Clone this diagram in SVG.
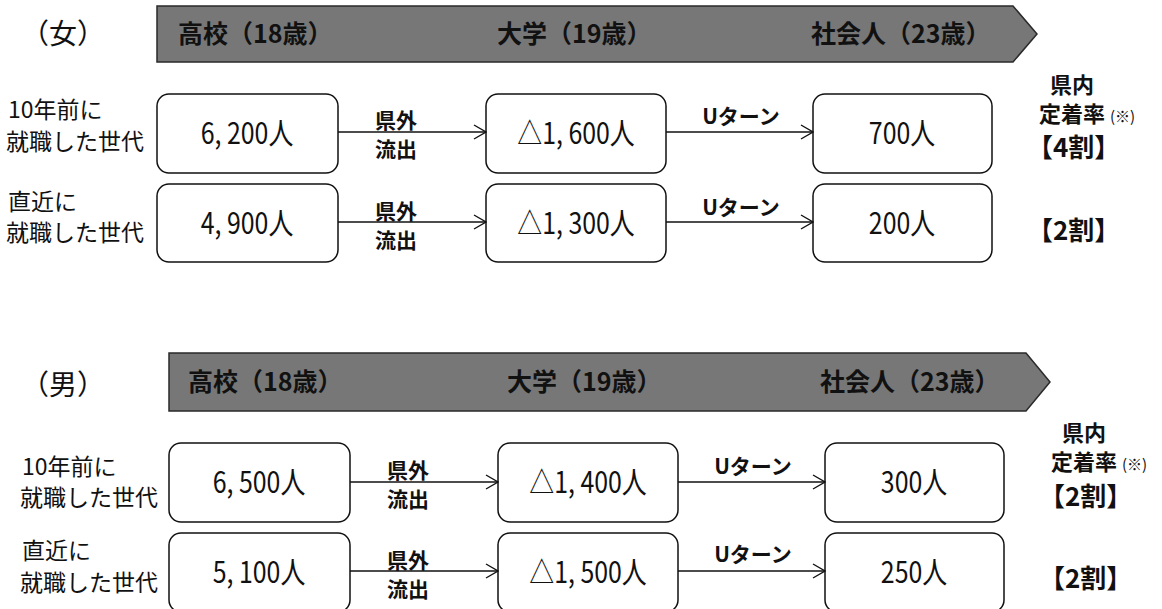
<svg xmlns="http://www.w3.org/2000/svg" width="1162" height="609" viewBox="0 0 1162 609">
<style>
.bg{fill:#ffffff}
.banner{fill:#777777;stroke:#2a2a2a;stroke-width:1.5}
.bt{font-family:"Noto Sans CJK JP","Noto Sans",sans-serif;font-weight:bold;font-size:25px;fill:#111}
.box{fill:#fff;stroke:#111;stroke-width:1.5}
.num{font-family:"Noto Sans CJK JP","Noto Sans",sans-serif;font-size:30px;fill:#111;text-anchor:middle}
.lab{font-family:"Noto Sans CJK JP","Noto Sans",sans-serif;font-size:23px;fill:#111}
.sex{font-family:"Noto Sans CJK JP","Noto Sans",sans-serif;font-size:28px;fill:#111}
.al{font-family:"Noto Sans CJK JP","Noto Sans",sans-serif;font-weight:bold;font-size:21px;fill:#111;text-anchor:middle}
.rt{font-family:"Noto Sans CJK JP","Noto Sans",sans-serif;font-weight:bold;font-size:22px;fill:#111}
.rb{font-family:"Noto Sans CJK JP","Noto Sans",sans-serif;font-weight:bold;font-size:26px;fill:#111}
.sm{font-family:"Noto Sans CJK JP","Noto Sans",sans-serif;font-size:15px;fill:#111}
.conn{stroke:#111;stroke-width:1.4;fill:none}
</style>
<defs>
<marker id="arr" viewBox="0 0 14 16" refX="13" refY="8" markerWidth="14" markerHeight="16" markerUnits="userSpaceOnUse" orient="auto">
<path d="M1,1 L13,8 L1,15" fill="none" stroke="#111" stroke-width="1.4"/>
</marker>
</defs>
<rect class="bg" x="0" y="0" width="1162" height="609"/>

<!-- Female section -->
<g id="female-header">
<text class="sex" x="21" y="44">（女）</text>
<path class="banner" d="M157,6 L1013,6 L1037,34 L1013,62 L157,62 Z"/>
<text class="bt" x="178" y="43">高校（18歳）</text>
<text class="bt" x="497" y="43">大学（19歳）</text>
<text class="bt" x="811" y="43">社会人（23歳）</text>
</g>

<g id="female-row1-label">
<text class="lab" x="8" y="118">10年前に</text>
<text class="lab" x="6" y="150">就職した世代</text>
</g>
<g id="female-row2-label">
<text class="lab" x="8" y="210">直近に</text>
<text class="lab" x="6" y="241">就職した世代</text>
</g>

<g id="f-r1-hs"><rect class="box" x="157" y="94" width="181" height="79" rx="12"/><text class="num" transform="translate(247,144) scale(0.83,1)">6, 200人</text></g>
<g id="f-r1-uni"><rect class="box" x="486" y="94" width="180" height="79" rx="12"/><text class="num" transform="translate(576,144) scale(0.83,1)">△1, 600人</text></g>
<g id="f-r1-work"><rect class="box" x="813" y="94" width="179" height="79" rx="12"/><text class="num" transform="translate(902,144) scale(0.83,1)">700人</text></g>

<g id="f-r2-hs"><rect class="box" x="157" y="184" width="181" height="78" rx="12"/><text class="num" transform="translate(247,234) scale(0.83,1)">4, 900人</text></g>
<g id="f-r2-uni"><rect class="box" x="486" y="184" width="180" height="78" rx="12"/><text class="num" transform="translate(576,234) scale(0.83,1)">△1, 300人</text></g>
<g id="f-r2-work"><rect class="box" x="813" y="184" width="179" height="78" rx="12"/><text class="num" transform="translate(902,234) scale(0.83,1)">200人</text></g>

<g id="female-rate">
<text class="rt" x="1050" y="93">県内</text>
<text class="rt" x="1039" y="122">定着率</text><text class="sm" x="1110" y="122">(※)</text>
<text class="rb" x="1027" y="157">【4割】</text>
<text class="rb" x="1027" y="240">【2割】</text>
</g>

<!-- Male section -->
<g id="male-header">
<text class="sex" x="21" y="395">（男）</text>
<path class="banner" d="M169,353 L1026,353 L1050,382 L1026,411 L169,411 Z"/>
<text class="bt" x="188" y="391">高校（18歳）</text>
<text class="bt" x="507" y="391">大学（19歳）</text>
<text class="bt" x="820" y="391">社会人（23歳）</text>
</g>

<g id="male-row1-label">
<text class="lab" x="22" y="475">10年前に</text>
<text class="lab" x="20" y="506">就職した世代</text>
</g>
<g id="male-row2-label">
<text class="lab" x="22" y="559">直近に</text>
<text class="lab" x="20" y="591">就職した世代</text>
</g>

<g id="m-r1-hs"><rect class="box" x="169" y="443" width="181" height="79" rx="12"/><text class="num" transform="translate(259,493) scale(0.83,1)">6, 500人</text></g>
<g id="m-r1-uni"><rect class="box" x="498" y="443" width="180" height="79" rx="12"/><text class="num" transform="translate(588,493) scale(0.83,1)">△1, 400人</text></g>
<g id="m-r1-work"><rect class="box" x="825" y="443" width="179" height="79" rx="12"/><text class="num" transform="translate(914,493) scale(0.83,1)">300人</text></g>

<g id="m-r2-hs"><rect class="box" x="169" y="533" width="181" height="79" rx="12"/><text class="num" transform="translate(259,583) scale(0.83,1)">5, 100人</text></g>
<g id="m-r2-uni"><rect class="box" x="498" y="533" width="180" height="79" rx="12"/><text class="num" transform="translate(588,583) scale(0.83,1)">△1, 500人</text></g>
<g id="m-r2-work"><rect class="box" x="825" y="533" width="179" height="79" rx="12"/><text class="num" transform="translate(914,583) scale(0.83,1)">250人</text></g>

<g id="male-rate">
<text class="rt" x="1062" y="441">県内</text>
<text class="rt" x="1051" y="470">定着率</text><text class="sm" x="1122" y="470">(※)</text>
<text class="rb" x="1039" y="506">【2割】</text>
<text class="rb" x="1039" y="588">【2割】</text>
</g>

<g id="connectors">
<line class="conn" x1="338" y1="132" x2="486" y2="132" marker-end="url(#arr)"/>
<line class="conn" x1="666" y1="132" x2="813" y2="132" marker-end="url(#arr)"/>
<line class="conn" x1="338" y1="222" x2="486" y2="222" marker-end="url(#arr)"/>
<line class="conn" x1="666" y1="222" x2="813" y2="222" marker-end="url(#arr)"/>
<line class="conn" x1="350" y1="482" x2="498" y2="482" marker-end="url(#arr)"/>
<line class="conn" x1="678" y1="482" x2="825" y2="482" marker-end="url(#arr)"/>
<line class="conn" x1="350" y1="571" x2="498" y2="571" marker-end="url(#arr)"/>
<line class="conn" x1="678" y1="571" x2="825" y2="571" marker-end="url(#arr)"/>
<text class="al" x="396" y="128">県外</text>
<text class="al" x="396" y="157">流出</text>
<text class="al" x="741" y="124">Uターン</text>
<text class="al" x="396" y="219">県外</text>
<text class="al" x="396" y="248">流出</text>
<text class="al" x="741" y="215">Uターン</text>
<text class="al" x="408" y="478">県外</text>
<text class="al" x="408" y="507">流出</text>
<text class="al" x="753" y="474">Uターン</text>
<text class="al" x="408" y="568">県外</text>
<text class="al" x="408" y="597">流出</text>
<text class="al" x="753" y="562">Uターン</text>
</g>
</svg>
